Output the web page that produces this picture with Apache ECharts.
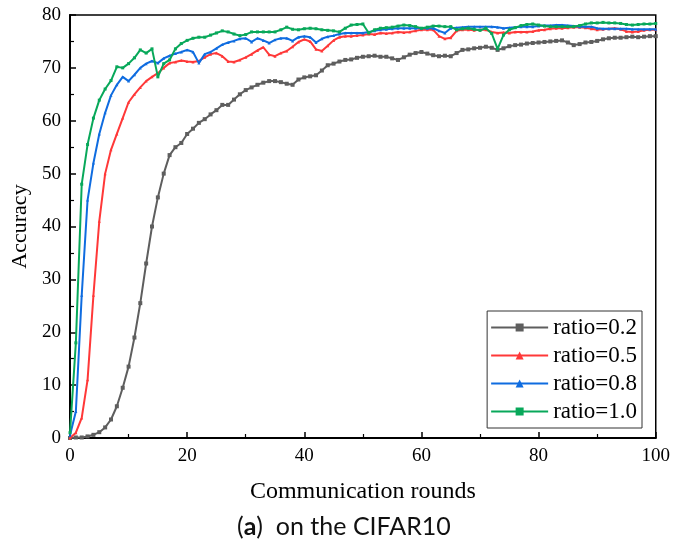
<!DOCTYPE html>
<html><head><meta charset="utf-8">
<script src="https://cdn.jsdelivr.net/npm/echarts@6/dist/echarts.min.js"></script>
<style>html,body{margin:0;padding:0;background:#fff}#c{width:673px;height:542px}</style>
</head><body><div id="c"></div>
<script>
const rounds = Array.from({length:101},(_,i)=>i);
const seriesNames = ['ratio=0.2','ratio=0.5','ratio=0.8','ratio=1.0'];
const ratio02 = [0,0.1,0.1,0.3,0.6,1.1,2.0,3.5,6.0,9.5,13.5,19,25.5,33,40,45.5,50,53.5,55,55.8,57.5,58.5,59.6,60.3,61.2,62,63,63,64,65,65.8,66.3,66.8,67.2,67.5,67.5,67.3,67,66.8,67.8,68.2,68.4,68.6,69.5,70.5,70.8,71.2,71.5,71.6,71.9,72.1,72.2,72.3,72.1,72.1,71.8,71.5,72,72.5,72.8,73,72.7,72.4,72.2,72.3,72.2,72.8,73.4,73.5,73.7,73.8,74,73.8,73.4,73.7,74.1,74.3,74.4,74.6,74.7,74.8,74.9,75,75.1,75.2,74.8,74.3,74.5,74.8,74.9,75.1,75.4,75.6,75.7,75.7,75.8,75.9,75.8,75.9,76,76];
const ratio05 = [0,1,3.8,11,27,41,50,54.5,57.5,60.5,63.5,65,66.3,67.5,68.3,69,70,70.9,71.1,71.4,71.2,71.1,71.3,72,72.6,72.8,72.2,71.2,71.1,71.5,72,72.6,73.3,73.9,72.5,72.2,72.8,73.2,74,74.9,75.4,75,73.5,73.2,74.2,75.2,75.8,76,76,76.1,76.2,76.4,76.3,76.6,76.5,76.6,76.8,76.7,76.8,77,77.2,77.2,77.2,76,75.5,75.7,77,77.2,77.2,77.1,77.2,77.2,76.8,76.6,76.7,76.6,76.8,76.8,76.8,76.9,77.1,77.2,77.4,77.5,77.5,77.6,77.7,77.7,77.6,77.4,77.2,77.3,77.4,77.5,77.3,76.9,76.8,76.9,77.1,77.2,77.2];
const ratio08 = [0.5,5,27,45,52,57.5,61.5,64.8,66.8,68.3,67.5,68.7,70,70.8,71.3,70.9,71.8,72.3,72.7,73,73.4,73,70.9,72.6,73,73.7,74.4,74.8,75.1,75.5,75.6,74.9,75.6,75.2,74.7,75.3,75.6,75.6,75.1,75.8,76,75.8,74.8,75.5,75.9,76.1,76.4,76.6,76.6,76.6,76.6,76.8,77,77.2,77.3,77.4,77.5,77.5,77.5,77.5,77.5,77.5,77.5,77,76.6,77.5,77.6,77.7,77.8,77.8,77.8,77.8,77.8,77.7,77.5,77.6,77.7,77.8,77.8,77.8,77.9,78,78,78.1,78.1,78,77.9,77.8,77.8,77.8,77.5,77.4,77.4,77.4,77.4,77.4,77.3,77.3,77.3,77.3,77.3];
const ratio10 = [1,18,48,55.5,60.5,63.9,66,67.6,70.2,70,70.8,71.9,73.4,72.8,73.6,68.3,70.8,71.5,73.6,74.6,75.2,75.6,75.8,75.8,76.2,76.6,77,76.8,76.4,76.1,76.3,76.8,76.8,76.8,76.8,76.8,77.2,77.7,77.3,77.2,77.4,77.5,77.4,77.2,77.1,77,76.8,77.5,78.1,78.2,78.3,76.6,77.2,77.5,77.6,77.7,77.9,78.1,78,77.8,77.5,77.7,77.9,77.9,77.8,77.8,77.2,77.4,77.5,77.3,77.1,77.5,76.5,73.6,76.2,77.2,77.6,78,78.2,78.3,78.1,77.9,77.8,77.8,77.8,77.8,77.8,78,78.3,78.5,78.5,78.6,78.5,78.5,78.4,78.2,78.1,78.2,78.3,78.3,78.4];
const xTicks = [0,20,40,60,80,100];
const yTicks = [0,10,20,30,40,50,60,70,80];

const colors = ['#5e5e5e','#ff3838','#0f6ce0','#08a85a'];
const symbols = ['rect','triangle','triangle','rect'];
const datas = [ratio02, ratio05, ratio08, ratio10];
const serif = '"Liberation Serif", "DejaVu Serif", serif';

const chart = echarts.init(document.getElementById('c'), null, {renderer:'canvas'});
chart.setOption({
  animation:false,
  backgroundColor:'#fff',
  textStyle:{fontFamily:serif},
  title:{
    text:'({b|a})  on the CIFAR10',
    left:232, top:509,
    textStyle:{fontFamily:'Lato', fontSize:25, fontWeight:'normal', color:'#111',
      rich:{b:{fontFamily:'Lato', fontSize:25, fontWeight:'bold', color:'#111'}}}
  },
  grid:{left:70, right:16, top:15, bottom:104, show:true, borderColor:'#000', borderWidth:1.5, backgroundColor:'transparent'},
  legend:{
    orient:'vertical', right:31, top:311,
    data:seriesNames,
    itemWidth:57, itemHeight:10, itemGap:5,
    padding:[5,5,5,3],
    borderColor:'#333', borderWidth:1, backgroundColor:'#fff',
    textStyle:{fontFamily:serif, fontSize:23, color:'#000'}
  },
  xAxis:{
    type:'value', min:0, max:100, interval:20,
    name:'Communication rounds', nameLocation:'middle', nameGap:42,
    nameTextStyle:{fontFamily:serif, fontSize:24, color:'#000'},
    axisLine:{show:true, lineStyle:{color:'#000', width:2}},
    axisTick:{show:true, inside:true, length:6, lineStyle:{color:'#000', width:1.5}},
    minorTick:{show:true, splitNumber:2, length:4, lineStyle:{color:'#000', width:1.2}},
    splitLine:{show:false},
    axisLabel:{fontFamily:serif, fontSize:19, color:'#000', margin:9,
      formatter:v=>xTicks.includes(v)?String(v):''}
  },
  yAxis:{
    type:'value', min:0, max:80, interval:10,
    name:'Accuracy', nameLocation:'middle', nameGap:34, nameRotate:90,
    nameTextStyle:{fontFamily:serif, fontSize:22, color:'#000'},
    axisLine:{show:true, lineStyle:{color:'#000', width:2}},
    axisTick:{show:true, inside:true, length:6, lineStyle:{color:'#000', width:1.5}},
    minorTick:{show:true, splitNumber:2, length:4, lineStyle:{color:'#000', width:1.2}},
    splitLine:{show:false},
    axisLabel:{fontFamily:serif, fontSize:19, color:'#000', margin:9,
      formatter:v=>yTicks.includes(v)?String(v):''}
  },
  series: seriesNames.map((n,i)=>({
    name:n, type:'line',
    data: rounds.map((r,j)=>[r, datas[i][j]]),
    symbol:symbols[i], symbolSize:i===0?4:3, showSymbol:true,
    itemStyle:{color:colors[i]},
    lineStyle:{color:colors[i], width:2},
    z:2+i
  }))
});
</script></body></html>
